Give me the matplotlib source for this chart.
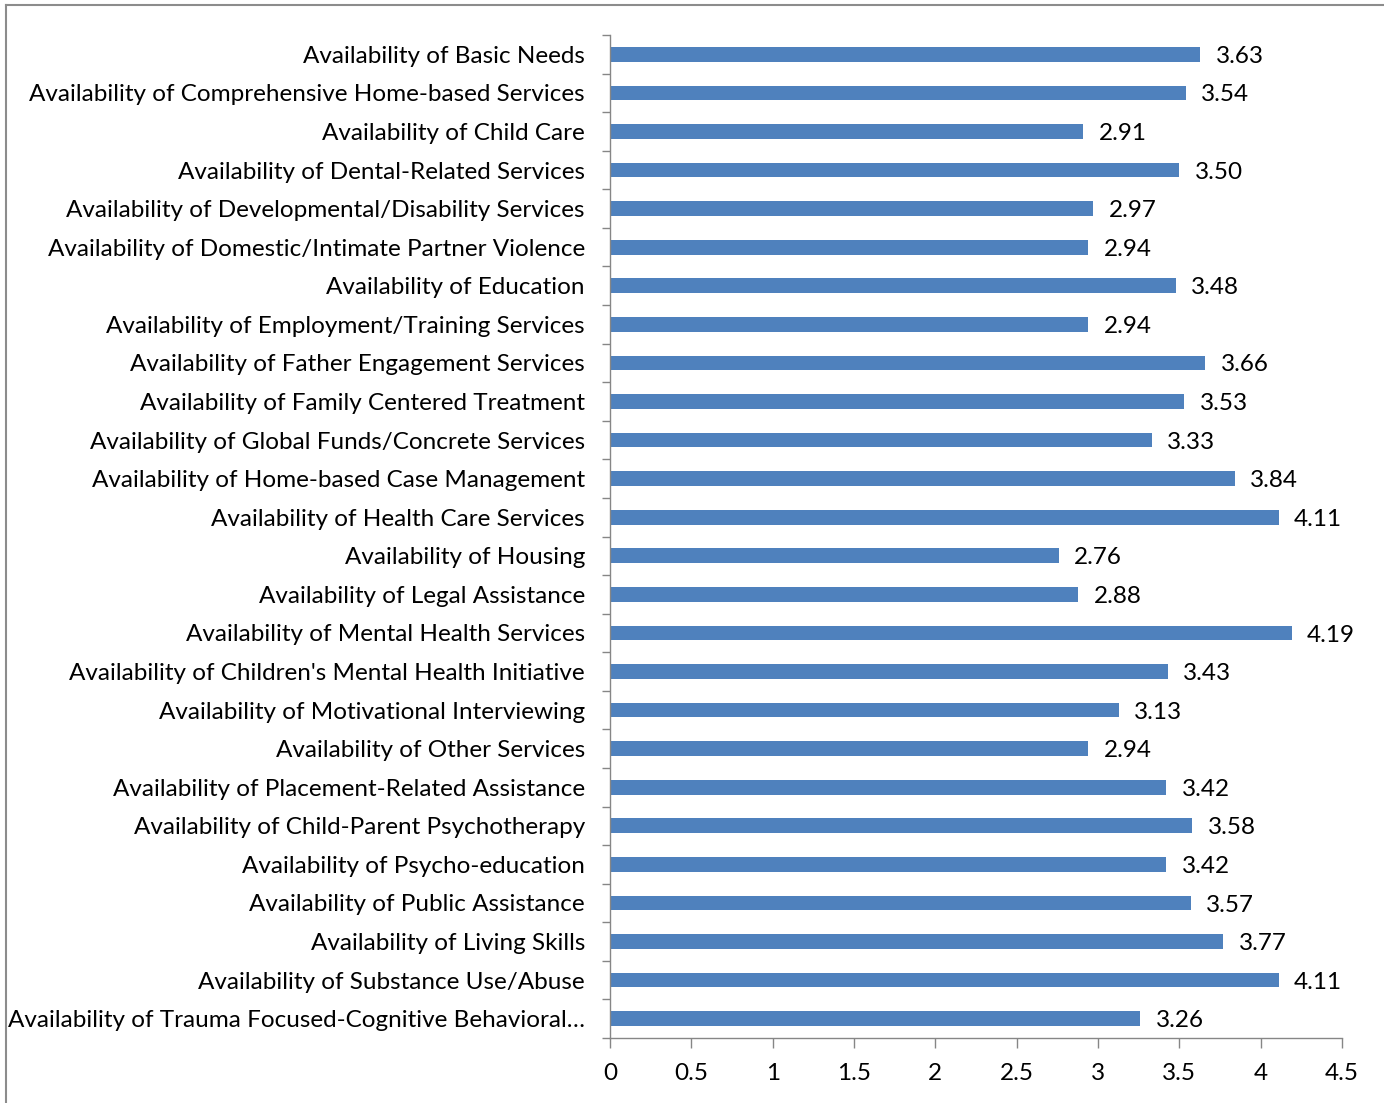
import matplotlib
matplotlib.use("Agg")
import matplotlib.pyplot as plt
from matplotlib.lines import Line2D
from matplotlib.ticker import FixedLocator

categories = [
    "Availability of Basic Needs",
    "Availability of Comprehensive Home-based Services",
    "Availability of Child Care",
    "Availability of Dental-Related Services",
    "Availability of Developmental/Disability Services",
    "Availability of Domestic/Intimate Partner Violence",
    "Availability of Education",
    "Availability of Employment/Training Services",
    "Availability of Father Engagement Services",
    "Availability of Family Centered Treatment",
    "Availability of Global Funds/Concrete Services",
    "Availability of Home-based Case Management",
    "Availability of Health Care Services",
    "Availability of Housing",
    "Availability of Legal Assistance",
    "Availability of Mental Health Services",
    "Availability of Children's Mental Health Initiative",
    "Availability of Motivational Interviewing",
    "Availability of Other Services",
    "Availability of Placement-Related Assistance",
    "Availability of Child-Parent Psychotherapy",
    "Availability of Psycho-education",
    "Availability of Public Assistance",
    "Availability of Living Skills",
    "Availability of Substance Use/Abuse",
    "Availability of Trauma Focused-Cognitive Behavioral\u2026",
]
values = [3.63, 3.54, 2.91, 3.50, 2.97, 2.94, 3.48, 2.94, 3.66, 3.53, 3.33, 3.84,
          4.11, 2.76, 2.88, 4.19, 3.43, 3.13, 2.94, 3.42, 3.58, 3.42, 3.57, 3.77,
          4.11, 3.26]
value_labels = ["%.2f" % v for v in values]
x_ticks = [0, 0.5, 1, 1.5, 2, 2.5, 3, 3.5, 4, 4.5]
x_tick_labels = ["0", "0.5", "1", "1.5", "2", "2.5", "3", "3.5", "4", "4.5"]

plt.rcParams['font.family'] = ['Lato', 'DejaVu Sans']
FS = 17.5

fig = plt.figure(figsize=(13.84, 11.03), dpi=100)
ax = fig.add_axes([610/1384, 1-1038/1103, (1342-610)/1384, (1038-35)/1103])

n = len(categories)
pos = list(range(n))
ax.barh(pos, values, height=0.38, color="#4F81BD", edgecolor="none")
ax.set_ylim(n - 0.5, -0.5)
ax.set_xlim(0, 4.5)

for p, v, s in zip(pos, values, value_labels):
    ax.annotate(s, (v, p), xytext=(11, -1.5), textcoords="offset points",
                va="center", ha="left", fontsize=FS, color="black")

ax.yaxis.set_major_locator(FixedLocator(pos))
ax.set_yticklabels(categories, fontsize=FS)
ax.yaxis.set_minor_locator(FixedLocator([i - 0.5 for i in range(n + 1)]))
ax.tick_params(axis="y", which="major", length=0, pad=18)
ax.tick_params(axis="y", which="minor", length=6, width=1, color="#868686", direction="out")
ax.set_xticks(x_ticks)
ax.set_xticklabels(x_tick_labels, fontsize=FS)
ax.tick_params(axis="x", length=7, width=1, color="#868686", direction="out", pad=11)

for sp in ["top", "right"]:
    ax.spines[sp].set_visible(False)
for sp in ["left", "bottom"]:
    ax.spines[sp].set_color("#868686")
    ax.spines[sp].set_linewidth(1)

# figure border
fig.add_artist(Line2D([6/1384, 6/1384], [0, 1-5/1103], transform=fig.transFigure, color="#8c8c8c", lw=1.5))
fig.add_artist(Line2D([6/1384, 1], [1-5/1103, 1-5/1103], transform=fig.transFigure, color="#8c8c8c", lw=1.5))

fig.savefig("out.png", dpi=100)
